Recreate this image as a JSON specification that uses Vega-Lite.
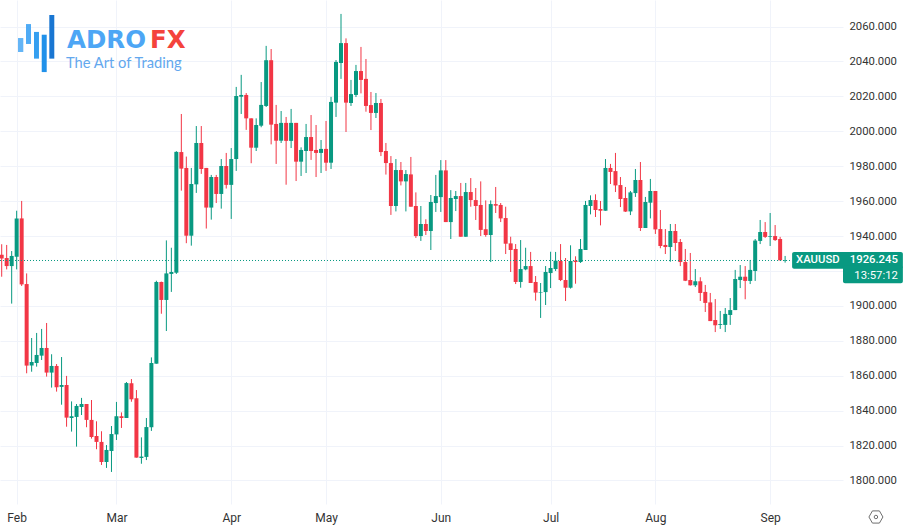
{"$schema":"https://vega.github.io/schema/vega-lite/v6.json","width":843,"height":504,"autosize":{"type":"none"},"padding":{"left":0,"top":0,"right":61,"bottom":28},"background":"white","config":{"view":{"stroke":null},"font":"Roboto"},
"data":{"values":[{}]},
"datasets":{"candles":[
{"i":0,"o":1929.3,"h":1935.3,"l":1916.7,"c":1927.2},{"i":1,"o":1927.4,"h":1934.9,"l":1920.9,"c":1922.8},{"i":2,"o":1922.8,"h":1931.4,"l":1901.3,"c":1928.6},{"i":3,"o":1928.2,"h":1954.5,"l":1920.9,"c":1950.1},{"i":4,"o":1950.1,"h":1960.1,"l":1911.4,"c":1912.3},{"i":5,"o":1912.5,"h":1918.6,"l":1861.4,"c":1865.8},{"i":6,"o":1865.8,"h":1881.6,"l":1862.3,"c":1867.9},{"i":7,"o":1867.3,"h":1884.5,"l":1865.2,"c":1871.9},{"i":8,"o":1871.5,"h":1886.8,"l":1869,"c":1875.9},{"i":9,"o":1875.9,"h":1890.2,"l":1859.5,"c":1861.8},
{"i":10,"o":1861.8,"h":1872.3,"l":1853.2,"c":1865.6},{"i":11,"o":1865.6,"h":1866.7,"l":1850.9,"c":1853.4},{"i":12,"o":1853.6,"h":1870.7,"l":1843.4,"c":1854.7},{"i":13,"o":1854.7,"h":1859.9,"l":1830.8,"c":1836},{"i":14,"o":1835.8,"h":1845.3,"l":1828,"c":1836.8},{"i":15,"o":1836.4,"h":1843.8,"l":1819.4,"c":1842.7},{"i":16,"o":1842.1,"h":1847.3,"l":1837.5,"c":1843.8},{"i":17,"o":1843.8,"h":1843.8,"l":1830.5,"c":1834.7},{"i":18,"o":1834.7,"h":1846.1,"l":1824,"c":1824.9},{"i":19,"o":1825.5,"h":1833.9,"l":1817.9,"c":1822.1},
{"i":20,"o":1822.1,"h":1828.2,"l":1808.9,"c":1810.6},{"i":21,"o":1810.6,"h":1820.3,"l":1807.2,"c":1817.5},{"i":22,"o":1816.9,"h":1831.2,"l":1804.9,"c":1826.6},{"i":23,"o":1826.4,"h":1845,"l":1823.2,"c":1836.8},{"i":24,"o":1836.8,"h":1839,"l":1830.1,"c":1835.8},{"i":25,"o":1835.8,"h":1856.4,"l":1835.8,"c":1855.8},{"i":26,"o":1855.7,"h":1858.1,"l":1845.1,"c":1846.5},{"i":27,"o":1847.1,"h":1851.8,"l":1813.1,"c":1813.1},{"i":28,"o":1812.9,"h":1824.7,"l":1809.6,"c":1813.7},{"i":29,"o":1813.5,"h":1835.8,"l":1811.7,"c":1830.6},
{"i":30,"o":1830.5,"h":1870.5,"l":1828.4,"c":1867.3},{"i":31,"o":1866.9,"h":1914.4,"l":1866.9,"c":1913.7},{"i":32,"o":1913.7,"h":1913.9,"l":1895.5,"c":1903.4},{"i":33,"o":1903.4,"h":1937.5,"l":1885.6,"c":1918.6},{"i":34,"o":1918.3,"h":1933.3,"l":1908,"c":1919.4},{"i":35,"o":1919,"h":1988.6,"l":1918.3,"c":1988.2},{"i":36,"o":1988.1,"h":2009.9,"l":1966,"c":1978.6},{"i":37,"o":1979,"h":1985.5,"l":1935.9,"c":1940.2},{"i":38,"o":1940.2,"h":1979,"l":1934.5,"c":1969.8},{"i":39,"o":1969.6,"h":2003,"l":1964.7,"c":1993.3},
{"i":40,"o":1993.3,"h":2003,"l":1975.6,"c":1978.4},{"i":41,"o":1979,"h":1979,"l":1944.3,"c":1956.3},{"i":42,"o":1956.3,"h":1975,"l":1949.4,"c":1973.8},{"i":43,"o":1973.8,"h":1975,"l":1958.9,"c":1964.1},{"i":44,"o":1964.1,"h":1984.1,"l":1955.7,"c":1980.1},{"i":45,"o":1980.1,"h":1987.6,"l":1967.2,"c":1969.3},{"i":46,"o":1969.3,"h":1990.4,"l":1949.8,"c":1984.1},{"i":47,"o":1984.1,"h":2025.4,"l":1977.3,"c":2020.2},{"i":48,"o":2019.8,"h":2032.3,"l":2009.9,"c":2020.8},{"i":49,"o":2020.8,"h":2021.9,"l":2000.8,"c":2007.4},
{"i":50,"o":2007.4,"h":2007.4,"l":1981.7,"c":1990.6},{"i":51,"o":1990.6,"h":2007.4,"l":1988.7,"c":2003.6},{"i":52,"o":2003.2,"h":2028.2,"l":2002.3,"c":2015.1},{"i":53,"o":2014.5,"h":2048.9,"l":2013.9,"c":2040.7},{"i":54,"o":2040.7,"h":2047.1,"l":1992.5,"c":2003.8},{"i":55,"o":2004.2,"h":2015.1,"l":1981.3,"c":1994.6},{"i":56,"o":1994.6,"h":2011.6,"l":1993.3,"c":2004.8},{"i":57,"o":2004.8,"h":2008.2,"l":1969.4,"c":1994.5},{"i":58,"o":1994.5,"h":2012.8,"l":1990.4,"c":2004.8},{"i":59,"o":2004.8,"h":2004.8,"l":1971.5,"c":1982.6},
{"i":60,"o":1982.6,"h":1990.8,"l":1974.4,"c":1989.3},{"i":61,"o":1988.7,"h":2004.2,"l":1976.1,"c":1996.7},{"i":62,"o":1996.7,"h":2009.3,"l":1983.6,"c":1988.7},{"i":63,"o":1989.3,"h":2003.6,"l":1973.8,"c":1987.6},{"i":64,"o":1987.6,"h":1995,"l":1976.1,"c":1989.9},{"i":65,"o":1989.9,"h":2005.9,"l":1977.3,"c":1982},{"i":66,"o":1982,"h":2019.7,"l":1978.4,"c":2016.8},{"i":67,"o":2016.4,"h":2040.8,"l":2008.2,"c":2039.7},{"i":68,"o":2039.1,"h":2067.2,"l":2030,"c":2050.5},{"i":69,"o":2050.5,"h":2053.2,"l":1999.6,"c":2016.4},
{"i":70,"o":2016.2,"h":2029.4,"l":2014.5,"c":2021.3},{"i":71,"o":2020.8,"h":2038,"l":2019.6,"c":2034.5},{"i":72,"o":2034.5,"h":2048.3,"l":2021.7,"c":2029.4},{"i":73,"o":2030,"h":2041.4,"l":2011.2,"c":2014.5},{"i":74,"o":2015,"h":2022.5,"l":2000.7,"c":2010.5},{"i":75,"o":2010.5,"h":2021.9,"l":2007.6,"c":2016.2},{"i":76,"o":2016.2,"h":2018.5,"l":1985.8,"c":1988.1},{"i":77,"o":1988.7,"h":1993.3,"l":1975.2,"c":1981.8},{"i":78,"o":1981.8,"h":1985.8,"l":1952.1,"c":1957.2},{"i":79,"o":1957.2,"h":1984.1,"l":1954.1,"c":1977.8},
{"i":80,"o":1977.8,"h":1982.4,"l":1969,"c":1971.3},{"i":81,"o":1971.3,"h":1977.8,"l":1954.1,"c":1975.5},{"i":82,"o":1975.3,"h":1985.3,"l":1956.8,"c":1956.8},{"i":83,"o":1957.2,"h":1965,"l":1938.9,"c":1940},{"i":84,"o":1940,"h":1957.2,"l":1937.2,"c":1946.9},{"i":85,"o":1946.9,"h":1949.6,"l":1940.6,"c":1942.9},{"i":86,"o":1942.9,"h":1963.5,"l":1932,"c":1959.5},{"i":87,"o":1958.9,"h":1975,"l":1953.8,"c":1962.9},{"i":88,"o":1962.3,"h":1983.5,"l":1953.8,"c":1977.6},{"i":89,"o":1977.6,"h":1983.5,"l":1948,"c":1948},
{"i":90,"o":1948,"h":1966.3,"l":1938.3,"c":1961.8},{"i":91,"o":1961.2,"h":1965.8,"l":1954.3,"c":1962.9},{"i":92,"o":1962.9,"h":1970.4,"l":1939.6,"c":1939.6},{"i":93,"o":1939.6,"h":1970.4,"l":1939.6,"c":1965.2},{"i":94,"o":1965.2,"h":1973.2,"l":1956.8,"c":1960.6},{"i":95,"o":1960.6,"h":1967.5,"l":1949.2,"c":1957.2},{"i":96,"o":1957.8,"h":1971.3,"l":1940,"c":1943.5},{"i":97,"o":1943.9,"h":1960.4,"l":1939.6,"c":1940.6},{"i":98,"o":1940.6,"h":1960.4,"l":1925.1,"c":1958.3},{"i":99,"o":1958.3,"h":1968.1,"l":1953.2,"c":1957.4},
{"i":100,"o":1957.8,"h":1958.9,"l":1948,"c":1950.1},{"i":101,"o":1950.3,"h":1956.8,"l":1929.7,"c":1935.6},{"i":102,"o":1935.8,"h":1939.6,"l":1919.4,"c":1932},{"i":103,"o":1932.6,"h":1935.4,"l":1912.5,"c":1913.7},{"i":104,"o":1913.7,"h":1937.7,"l":1910.4,"c":1921.1},{"i":105,"o":1920.9,"h":1933.3,"l":1920.4,"c":1922.8},{"i":106,"o":1922.8,"h":1930.9,"l":1913.1,"c":1913.1},{"i":107,"o":1913.7,"h":1917.1,"l":1903,"c":1907.6},{"i":108,"o":1907.6,"h":1913.1,"l":1893.1,"c":1907.9},{"i":109,"o":1907.9,"h":1922.8,"l":1900.5,"c":1919.4},
{"i":110,"o":1918.8,"h":1931,"l":1910.2,"c":1921.7},{"i":111,"o":1921.1,"h":1930.9,"l":1920,"c":1925.9},{"i":112,"o":1925.7,"h":1935.4,"l":1914.2,"c":1914.8},{"i":113,"o":1914.8,"h":1927.4,"l":1902.8,"c":1910.4},{"i":114,"o":1910.4,"h":1934.7,"l":1909.9,"c":1925.7},{"i":115,"o":1925.9,"h":1928.4,"l":1912.7,"c":1925.1},{"i":116,"o":1925.1,"h":1938.3,"l":1924.6,"c":1932.6},{"i":117,"o":1932,"h":1960.1,"l":1932,"c":1957.8},{"i":118,"o":1957.2,"h":1963.3,"l":1952.4,"c":1960.6},{"i":119,"o":1960.6,"h":1963.9,"l":1950.9,"c":1954.9},
{"i":120,"o":1955.5,"h":1960.1,"l":1946.1,"c":1954.5},{"i":121,"o":1954.5,"h":1984.1,"l":1954.5,"c":1979},{"i":122,"o":1979,"h":1981.3,"l":1969.8,"c":1976.7},{"i":123,"o":1977.2,"h":1987.6,"l":1965.2,"c":1969},{"i":124,"o":1969.2,"h":1973.8,"l":1956.6,"c":1961.2},{"i":125,"o":1961.8,"h":1968.1,"l":1953.8,"c":1954},{"i":126,"o":1954.1,"h":1965.8,"l":1952,"c":1965},{"i":127,"o":1964.6,"h":1978.4,"l":1962.4,"c":1972.1},{"i":128,"o":1972.1,"h":1982.4,"l":1942.9,"c":1944.6},{"i":129,"o":1944.6,"h":1962.4,"l":1944.6,"c":1959.5},
{"i":130,"o":1959.1,"h":1972.7,"l":1950.1,"c":1965.8},{"i":131,"o":1965.8,"h":1965.8,"l":1941.2,"c":1943.8},{"i":132,"o":1944,"h":1954.9,"l":1933,"c":1934.3},{"i":133,"o":1934.9,"h":1944,"l":1929.7,"c":1933.7},{"i":134,"o":1933.7,"h":1946.9,"l":1925.3,"c":1942.9},{"i":135,"o":1942.9,"h":1946.9,"l":1931.4,"c":1936},{"i":136,"o":1936.6,"h":1938.3,"l":1922.8,"c":1925.1},{"i":137,"o":1925.1,"h":1932.6,"l":1914.2,"c":1914.4},{"i":138,"o":1914.8,"h":1930.3,"l":1911.6,"c":1911.8},{"i":139,"o":1911.8,"h":1921.1,"l":1910.8,"c":1914.1},
{"i":140,"o":1914.1,"h":1916.4,"l":1902.8,"c":1907.4},{"i":141,"o":1908,"h":1912,"l":1896.5,"c":1901.7},{"i":142,"o":1902,"h":1907.4,"l":1891.3,"c":1891.3},{"i":143,"o":1891.9,"h":1903.9,"l":1885,"c":1888.9},{"i":144,"o":1889.1,"h":1897.1,"l":1886.8,"c":1889.6},{"i":145,"o":1889.1,"h":1898.8,"l":1885,"c":1895.4},{"i":146,"o":1894.8,"h":1904.5,"l":1889.1,"c":1897.6},{"i":147,"o":1897.6,"h":1920.6,"l":1897.6,"c":1915.4},{"i":148,"o":1914.8,"h":1923.4,"l":1910.2,"c":1916.7},{"i":149,"o":1916.7,"h":1922.8,"l":1903.8,"c":1914.3},
{"i":150,"o":1914.3,"h":1926.3,"l":1912.5,"c":1920.6},{"i":151,"o":1920,"h":1938.3,"l":1914.3,"c":1937.4},{"i":152,"o":1937.2,"h":1949.2,"l":1935.4,"c":1942.3},{"i":153,"o":1942.3,"h":1948,"l":1938.9,"c":1939.5},{"i":154,"o":1939.6,"h":1953.2,"l":1934.3,"c":1940},{"i":155,"o":1940,"h":1946.3,"l":1937.2,"c":1937.7},{"i":156,"o":1938.3,"h":1939.5,"l":1926.1,"c":1926.1},{"i":157,"o":1925.9,"h":1928.6,"l":1924.8,"c":1926.245}
]},
"layer":[
{"data":{"name":"candles"},"mark":{"type":"rule","strokeWidth":1},"encoding":{
"x":{"field":"i","type":"quantitative","scale":{"domain":[-0.34,168.6],"nice":false,"zero":false,"padding":0},"axis":{"title":null,"values":[3,23,46,65,88,110,131,154],"labelExpr":"{3:'Feb',23:'Mar',46:'Apr',65:'May',88:'Jun',110:'Jul',131:'Aug',154:'Sep'}[datum.value]","grid":true,"gridColor":"#f0f3fa","domain":false,"ticks":false,"labelColor":"#333333","labelFontSize":12,"labelPadding":8,"labelFlush":false,"labelOverlap":false,"tickCount":20}},
"y":{"field":"l","type":"quantitative","scale":{"domain":[1786.54,2075.18],"nice":false,"zero":false},"axis":{"title":null,"orient":"right","values":[1800,1820,1840,1860,1880,1900,1920,1940,1960,1980,2000,2020,2040,2060],"labelExpr":"datum.value==1920?'':format(datum.value,'.3f')","grid":true,"gridColor":"#f0f3fa","domain":false,"ticks":false,"labelColor":"#333333","labelFontSize":11.3,"labelPadding":6,"labelOverlap":false,"tickCount":20}},
"y2":{"field":"h"},
"color":{"condition":{"test":"datum.c>=datum.o","value":"#089981"},"value":"#f23645"}}},
{"data":{"name":"candles"},"mark":{"type":"bar","size":4},"encoding":{
"x":{"field":"i","type":"quantitative"},"y":{"field":"o","type":"quantitative"},"y2":{"field":"c"},
"color":{"condition":{"test":"datum.c>=datum.o","value":"#089981"},"value":"#f23645"}}},
{"mark":{"type":"rule","strokeWidth":1,"strokeDash":[1,2],"color":"#089981"},"encoding":{"x":{"datum":-0.34,"type":"quantitative"},"x2":{"datum":158.4},"y":{"datum":1926,"type":"quantitative"}}},
{"mark":{"type":"rect","color":"#64b5f6"},"encoding":{"x":{"datum":3.27,"type":"quantitative"},"x2":{"datum":4.33},"y":{"datum":2053.4,"type":"quantitative"},"y2":{"datum":2045.4}}},
{"mark":{"type":"rect","color":"#4fabf5"},"encoding":{"x":{"datum":4.87,"type":"quantitative"},"x2":{"datum":5.87},"y":{"datum":2061.4,"type":"quantitative"},"y2":{"datum":2050}}},
{"mark":{"type":"rect","color":"#359ff0"},"encoding":{"x":{"datum":6.47,"type":"quantitative"},"x2":{"datum":7.47},"y":{"datum":2056.9,"type":"quantitative"},"y2":{"datum":2041.6}}},
{"mark":{"type":"rect","color":"#2091ea"},"encoding":{"x":{"datum":8.02,"type":"quantitative"},"x2":{"datum":9.02},"y":{"datum":2055.3,"type":"quantitative"},"y2":{"datum":2033.9}}},
{"mark":{"type":"rect","color":"#1976d2"},"encoding":{"x":{"datum":9.54,"type":"quantitative"},"x2":{"datum":10.54},"y":{"datum":2066.6,"type":"quantitative"},"y2":{"datum":2041.6}}},
{"mark":{"type":"text","text":"ADRO","font":"DejaVu Sans","fontSize":24.5,"fontWeight":"bold","align":"left","baseline":"alphabetic","color":"#4da6f5"},"encoding":{"x":{"datum":13.1,"type":"quantitative"},"y":{"datum":2047.7,"type":"quantitative"}}},
{"mark":{"type":"text","text":"FX","font":"DejaVu Sans","fontSize":24.5,"fontWeight":"bold","align":"left","baseline":"alphabetic","color":"#f4433c"},"encoding":{"x":{"datum":29.7,"type":"quantitative"},"y":{"datum":2047.7,"type":"quantitative"}}},
{"mark":{"type":"text","text":"The Art of Trading","font":"Lato","fontSize":14.7,"align":"left","baseline":"alphabetic","color":"#63a8ee"},"encoding":{"x":{"datum":12.9,"type":"quantitative"},"y":{"datum":2036.2,"type":"quantitative"}}},
{"mark":{"type":"rect","color":"#089981","cornerRadius":2},"encoding":{"x":{"datum":158.4,"type":"quantitative"},"x2":{"datum":180.6},"y":{"datum":1930.9,"type":"quantitative"},"y2":{"datum":1921.3}}},
{"mark":{"type":"rect","color":"#089981","cornerRadius":2},"encoding":{"x":{"datum":168.6,"type":"quantitative"},"x2":{"datum":180.6},"y":{"datum":1923,"type":"quantitative"},"y2":{"datum":1912.9}}},
{"mark":{"type":"text","text":"XAUUSD","fontSize":11.3,"fontWeight":500,"align":"left","baseline":"middle","color":"white"},"encoding":{"x":{"datum":159.2,"type":"quantitative"},"y":{"datum":1926.2,"type":"quantitative"}}},
{"mark":{"type":"text","text":"1926.245","fontSize":11.3,"fontWeight":500,"align":"right","baseline":"middle","color":"white"},"encoding":{"x":{"datum":179.6,"type":"quantitative"},"y":{"datum":1926.2,"type":"quantitative"}}},
{"mark":{"type":"text","text":"13:57:12","fontSize":11.3,"align":"right","baseline":"middle","color":"white"},"encoding":{"x":{"datum":179.6,"type":"quantitative"},"y":{"datum":1917.1,"type":"quantitative"}}},
{"mark":{"type":"point","shape":"M-1,0L-0.5,-0.87L0.5,-0.87L1,0L0.5,0.87L-0.5,0.87Z","size":196,"filled":false,"color":"#333333","strokeWidth":1},"encoding":{"x":{"datum":175.2,"type":"quantitative"},"y":{"datum":1779.1,"type":"quantitative"}}},
{"mark":{"type":"point","shape":"circle","size":12,"filled":false,"color":"#333333","strokeWidth":1},"encoding":{"x":{"datum":175.2,"type":"quantitative"},"y":{"datum":1779.1,"type":"quantitative"}}}
]}
